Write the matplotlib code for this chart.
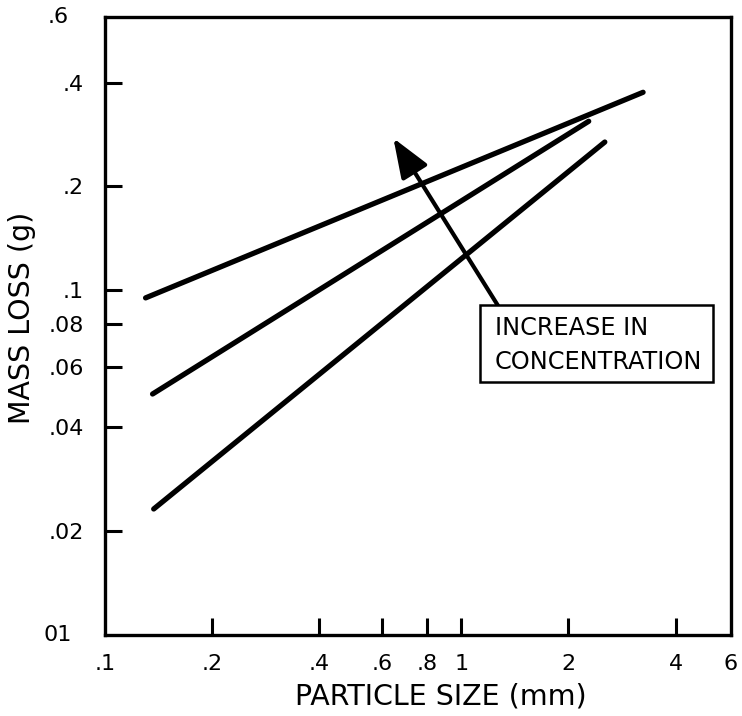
import matplotlib
matplotlib.use("Agg")
import matplotlib.pyplot as plt
from matplotlib.patches import Rectangle

# ---- data ----
line_x = [[0.13, 3.24], [0.136, 2.28], [0.137, 2.53]]
line_y = [[0.095, 0.375], [0.050, 0.309], [0.0232, 0.269]]
arrow_tail = (1.27, 0.090)
arrow_head = (0.645, 0.276)
x_ticks = [0.2, 0.4, 0.6, 0.8, 1, 2, 4]
x_tick_labels = ['.2', '.4', '.6', '.8', '1', '2', '4']
x_lim = (0.1, 5.72)
y_ticks = [0.02, 0.04, 0.06, 0.08, 0.1, 0.2, 0.4]
y_tick_labels = ['.02', '.04', '.06', '.08', '.1', '.2', '.4']
y_lim = (0.01, 0.62)
box_lines = ['INCREASE IN', 'CONCENTRATION']

plt.rcParams['font.family'] = ['DejaVu Sans']

fig = plt.figure(figsize=(7.42, 7.16), dpi=100)
ax = fig.add_axes([105/742, 81/716, 626/742, 618/716])
ax.set_xscale('log')
ax.set_yscale('log')
ax.set_xlim(*x_lim)
ax.set_ylim(*y_lim)

for xs, ys in zip(line_x, line_y):
    ax.plot(xs, ys, color='black', lw=3.8, solid_capstyle='round')

ax.annotate('', xy=arrow_head, xytext=arrow_tail,
            arrowprops=dict(arrowstyle='-|>,head_length=1.1,head_width=0.42',
                            lw=3, color='black', mutation_scale=22,
                            shrinkA=0, shrinkB=0))

# annotation box
ax.add_patch(Rectangle((0.599, 0.409), 0.372, 0.125, transform=ax.transAxes,
                       fc='white', ec='black', lw=1.8, zorder=3))
ax.text(0.623, 0.4968, box_lines[0], transform=ax.transAxes, fontsize=17.3,
        ha='left', va='center', zorder=4)
ax.text(0.623, 0.4417, box_lines[1], transform=ax.transAxes, fontsize=17.3,
        ha='left', va='center', zorder=4)

for s in ax.spines.values():
    s.set_linewidth(2.4)

ax.minorticks_off()
ax.set_xticks(x_ticks)
ax.set_xticklabels(x_tick_labels)
ax.set_yticks(y_ticks)
ax.set_yticklabels(y_tick_labels)
ax.tick_params(direction='in', length=12, width=2.2, labelsize=16, pad=14)
ax.tick_params(axis='y', pad=15)

# end labels sitting at the axis limits
ax.text(0.0, -0.031, '.1', transform=ax.transAxes, fontsize=16, ha='center', va='top')
ax.text(1.0, -0.031, '6', transform=ax.transAxes, fontsize=16, ha='center', va='top')
ax.text(-0.075, 0.0, '01', transform=ax.transAxes, fontsize=16, ha='center', va='center')
ax.text(-0.075, 1.0, '.6', transform=ax.transAxes, fontsize=16, ha='center', va='center')

fig.text(441/742, 1 - 697/716, 'PARTICLE SIZE (mm)', fontsize=20.5, ha='center', va='center')
fig.text(22/742, 1 - 318/716, 'MASS LOSS (g)', fontsize=20.5, ha='center', va='center',
         rotation=90)

fig.savefig('out.png', dpi=100)
